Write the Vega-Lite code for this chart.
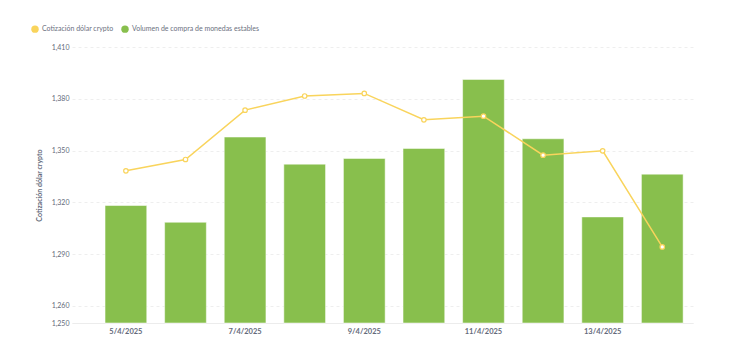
{
  "$schema": "https://vega.github.io/schema/vega-lite/v6.json",
  "width": 621,
  "height": 276,
  "autosize": {"type": "none"},
  "padding": {"left": 72, "top": 47, "right": 37, "bottom": 30},
  "background": "white",
  "config": {"font": "Lato", "view": {"stroke": null}},
  "data": {
    "values": [
      {"fecha": "5/4/2025", "serie": "Volumen de compra de monedas estables", "valor": 1318.1},
      {"fecha": "6/4/2025", "serie": "Volumen de compra de monedas estables", "valor": 1308.4},
      {"fecha": "7/4/2025", "serie": "Volumen de compra de monedas estables", "valor": 1357.8},
      {"fecha": "8/4/2025", "serie": "Volumen de compra de monedas estables", "valor": 1342.1},
      {"fecha": "9/4/2025", "serie": "Volumen de compra de monedas estables", "valor": 1345.4},
      {"fecha": "10/4/2025", "serie": "Volumen de compra de monedas estables", "valor": 1351.2},
      {"fecha": "11/4/2025", "serie": "Volumen de compra de monedas estables", "valor": 1391.2},
      {"fecha": "12/4/2025", "serie": "Volumen de compra de monedas estables", "valor": 1356.8},
      {"fecha": "13/4/2025", "serie": "Volumen de compra de monedas estables", "valor": 1311.5},
      {"fecha": "14/4/2025", "serie": "Volumen de compra de monedas estables", "valor": 1336.3},
      {"fecha": "5/4/2025", "serie": "Cotización dólar crypto", "valor": 1338.2},
      {"fecha": "6/4/2025", "serie": "Cotización dólar crypto", "valor": 1344.8},
      {"fecha": "7/4/2025", "serie": "Cotización dólar crypto", "valor": 1373.4},
      {"fecha": "8/4/2025", "serie": "Cotización dólar crypto", "valor": 1381.6},
      {"fecha": "9/4/2025", "serie": "Cotización dólar crypto", "valor": 1383.1},
      {"fecha": "10/4/2025", "serie": "Cotización dólar crypto", "valor": 1367.8},
      {"fecha": "11/4/2025", "serie": "Cotización dólar crypto", "valor": 1369.9},
      {"fecha": "12/4/2025", "serie": "Cotización dólar crypto", "valor": 1347.3},
      {"fecha": "13/4/2025", "serie": "Cotización dólar crypto", "valor": 1349.8},
      {"fecha": "14/4/2025", "serie": "Cotización dólar crypto", "valor": 1294.1}
    ]
  },
  "encoding": {
    "x": {
      "field": "fecha",
      "type": "ordinal",
      "sort": ["5/4/2025", "6/4/2025", "7/4/2025", "8/4/2025", "9/4/2025", "10/4/2025", "11/4/2025", "12/4/2025", "13/4/2025", "14/4/2025"],
      "scale": {"paddingInner": 0.3, "paddingOuter": 0.36, "align": 0.77},
      "axis": {
        "title": null,
        "values": ["5/4/2025", "7/4/2025", "9/4/2025", "11/4/2025", "13/4/2025"],
        "labelAngle": 0,
        "ticks": false,
        "labelPadding": 4,
        "labelFontSize": 7.5,
        "labelFontWeight": "bold",
        "labelColor": "#646a7b",
        "domainColor": "#ececec",
        "domainWidth": 1,
        "grid": false
      }
    },
    "y": {
      "field": "valor",
      "type": "quantitative",
      "scale": {"domain": [1250, 1410], "zero": false, "nice": false},
      "axis": {
        "title": "Cotización dólar crypto",
        "values": [1250, 1260, 1290, 1320, 1350, 1380, 1410],
        "format": ",.0f",
        "ticks": false,
        "domain": false,
        "labelPadding": 3,
        "labelFontSize": 7,
        "labelColor": "#646a7b",
        "gridColor": "#eeeeee",
        "gridDash": [3, 3],
        "gridWidth": 1,
        "titleFontSize": 7,
        "titleFontWeight": "bold",
        "titleColor": "#646a7b",
        "titleX": -33,
        "titleY": 138,
        "titleAngle": 270,
        "titleAlign": "center",
        "titleBaseline": "middle"
      }
    },
    "color": {
      "field": "serie",
      "type": "nominal",
      "scale": {
        "domain": ["Cotización dólar crypto", "Volumen de compra de monedas estables"],
        "range": ["#F9D45C", "#88BF4D"]
      },
      "legend": {
        "title": null,
        "orient": "none",
        "legendX": -41,
        "legendY": -22,
        "direction": "horizontal",
        "symbolType": "circle",
        "symbolSize": 55,
        "symbolStrokeWidth": 0,
        "labelFontSize": 7,
        "labelColor": "#6b7080",
        "labelOffset": 3,
        "columnPadding": 7,
        "encode": {
          "symbols": {
            "update": {
              "fill": {"scale": "color", "field": "value"},
              "stroke": {"value": "transparent"},
              "opacity": {"value": 1}
            }
          }
        }
      }
    }
  },
  "layer": [
    {
      "transform": [{"filter": "datum.serie === 'Volumen de compra de monedas estables'"}],
      "mark": {"type": "bar", "stroke": "white", "strokeOpacity": 0.5, "strokeWidth": 1},
      "encoding": {"y2": {"datum": 1250}}
    },
    {
      "transform": [{"filter": "datum.serie === 'Cotización dólar crypto'"}],
      "mark": {
        "type": "line",
        "strokeWidth": 1.5,
        "point": {"filled": true, "fill": "white", "stroke": "#F9D45C", "strokeWidth": 1.2, "size": 20}
      }
    }
  ]
}
